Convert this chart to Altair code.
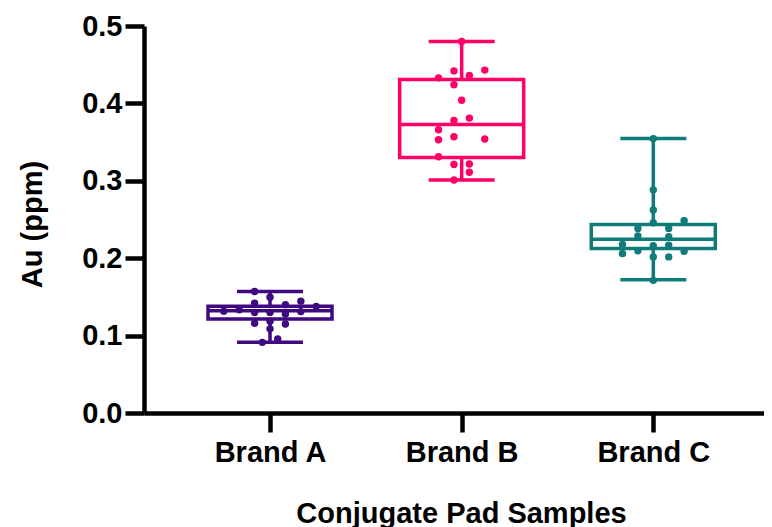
import altair as alt
import pandas as pd

brands = ["Brand A", "Brand B", "Brand C"]
colors = ["#3F0A80", "#FF0066", "#0F7C7A"]

# Individual measurements (Au, ppm) and the jitter column each dot sits in
a_vals = [0.157, 0.1497, 0.142, 0.140, 0.1445, 0.1377, 0.1316, 0.1333, 0.130,
          0.130, 0.128, 0.131, 0.116, 0.1186, 0.115, 0.1087, 0.0913, 0.0957]
a_slot = [-1, 0, -1, 1, 2, 3, -3, -2, -1, 0, 1, 2, -1, 0, 1, 0, -0.5, 0.5]

b_vals = [0.480, 0.442, 0.443, 0.433, 0.436, 0.424, 0.404, 0.378, 0.381,
          0.366, 0.353, 0.357, 0.354, 0.331, 0.321, 0.3216, 0.311, 0.301]
b_slot = [0, -0.5, 1.5, -1.5, 0.5, -0.5, 0, -0.5, 0.5,
          -1.5, -1.5, -0.5, 1.5, -1.5, -0.5, 0.5, 0.5, -0.5]

c_vals = [0.3545, 0.2883, 0.2623, 0.2459, 0.2485, 0.2385, 0.2385, 0.2286, 0.2277,
          0.2178, 0.216, 0.2169, 0.206, 0.2095, 0.2017, 0.2017, 0.209, 0.1714]
c_slot = [0, 0, 0, 0, 2, -1, 1, -1, 1, -2, 0, 1, -2, -1, 0, 1, 2, 0]

# Box-plot summary (min-max whiskers)
box_min = [0.0913, 0.301, 0.172]
box_q1 = [0.1215, 0.330, 0.2125]
box_med = [0.132, 0.3727, 0.2245]
box_q3 = [0.1378, 0.431, 0.2435]
box_max = [0.157, 0.480, 0.3545]

rows = []
for i, (vals, slots) in enumerate([(a_vals, a_slot), (b_vals, b_slot), (c_vals, c_slot)]):
    for v, s in zip(vals, slots):
        rows.append({"brand": brands[i], "idx": i, "value": v, "slot": s})
points = pd.DataFrame(rows)

stats = pd.DataFrame({
    "brand": brands, "idx": [0, 1, 2],
    "mn": box_min, "q1": box_q1, "med": box_med, "q3": box_q3, "mx": box_max,
})

JIT = 0.0804
FONT = "Liberation Sans"
LW = 3.5

xscale = alt.Scale(domain=[-0.6575, 2.5776], nice=False, zero=False)
yscale = alt.Scale(domain=[0, 0.5], nice=False, zero=True)

xaxis = alt.Axis(
    values=[0, 1, 2],
    labelExpr="['Brand A','Brand B','Brand C'][datum.value]",
    title="Conjugate Pad Samples",
    titleX=317, titleY=109, titleAlign="center", titleBaseline="alphabetic",
    labelPadding=6, grid=False,
)
yaxis = alt.Axis(
    values=[0, 0.1, 0.2, 0.3, 0.4, 0.5], format=".1f",
    title="Au (ppm)",
    titleX=-103, titleY=198, titleAlign="center", titleBaseline="alphabetic",
    labelPadding=3, grid=False,
)
color = alt.Color("brand:N", scale=alt.Scale(domain=brands, range=colors), legend=None)

def X(field):
    return alt.X(field, type="quantitative", scale=xscale, axis=xaxis)

def Y(field):
    return alt.Y(field, type="quantitative", scale=yscale, axis=yaxis)

base = alt.Chart(stats)

box = base.mark_rect(fill="white", strokeWidth=LW, xOffset=-62, x2Offset=62).encode(
    x=X("idx"), x2="idx", y=Y("q1"), y2="q3", stroke=color
)
median = base.mark_rule(strokeWidth=LW, xOffset=-62, x2Offset=62).encode(
    x=X("idx"), x2="idx", y=Y("med"), color=color
)
wlow = base.mark_rule(strokeWidth=LW).encode(x=X("idx"), y=Y("mn"), y2="q1", color=color)
whigh = base.mark_rule(strokeWidth=LW).encode(x=X("idx"), y=Y("q3"), y2="mx", color=color)
caplow = base.mark_rule(strokeWidth=LW, xOffset=-33, x2Offset=33).encode(
    x=X("idx"), x2="idx", y=Y("mn"), color=color
)
caphigh = base.mark_rule(strokeWidth=LW, xOffset=-33, x2Offset=33).encode(
    x=X("idx"), x2="idx", y=Y("mx"), color=color
)
dots = alt.Chart(points).transform_calculate(
    xj=f"datum.idx + datum.slot * {JIT}"
).mark_circle(size=55, opacity=1).encode(
    x=X("xj"), y=Y("value"), color=color
)

chart = alt.layer(wlow, whigh, caplow, caphigh, box, median, dots).properties(
    width=620, height=387,
    autosize=alt.AutoSizeParams(type="none"),
    padding={"left": 136, "top": 18, "right": 0, "bottom": 114},
).configure_view(stroke=None).configure_axis(
    labelFont=FONT, labelFontWeight="bold", labelFontSize=29, labelColor="black",
    titleFont=FONT, titleFontWeight="bold", titleFontSize=29, titleColor="black",
    domainColor="black", domainWidth=4.5, tickColor="black", tickWidth=4.5, tickSize=19,
)

chart.save("out.html", embed_options={"renderer": "svg", "actions": False})
